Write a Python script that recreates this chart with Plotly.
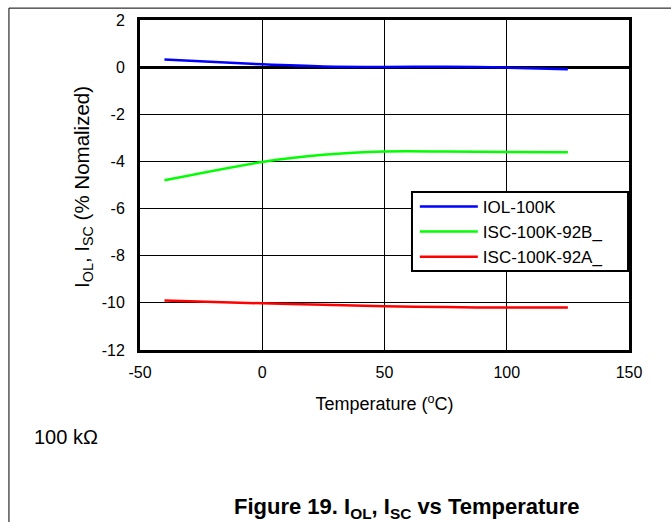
import plotly.graph_objects as go

temps = [-40, 0, 25, 50, 75, 100, 125]
iol_100k = [0.32, 0.12, 0.03, 0.01, 0.02, -0.02, -0.09]
isc_92b = [-4.8, -4.02, -3.72, -3.58, -3.58, -3.6, -3.61]
isc_92a = [-9.9, -10.02, -10.08, -10.14, -10.18, -10.2, -10.2]

series_names = ["IOL-100K", "ISC-100K-92B_", "ISC-100K-92A_"]
series_vals = [iol_100k, isc_92b, isc_92a]
series_colors = ["#0000FF", "#00FF00", "#FF0000"]

x_ticks = [-50, 0, 50, 100, 150]
x_tick_text = ["-50", "0", "50", "100", "150"]
y_ticks = [2, 0, -2, -4, -6, -8, -10, -12]
y_tick_text = ["2", "0", "-2", "-4", "-6", "-8", "-10", "-12"]

FONT = "Liberation Sans, Arial, sans-serif"

fig = go.Figure()
for name, vals, col in zip(series_names, series_vals, series_colors):
    fig.add_trace(go.Scatter(x=temps, y=vals, name=name, mode="lines",
                             line=dict(color=col, width=2.5, shape="spline", smoothing=0.8)))

fig.update_layout(
    width=671, height=522,
    margin=dict(l=140, r=42, t=20, b=172),
    paper_bgcolor="white", plot_bgcolor="white",
    font=dict(family=FONT, size=16, color="black"),
    showlegend=True,
    legend=dict(x=0.562, y=0.488, xanchor="left", yanchor="top",
                bgcolor="rgba(0,0,0,0)", borderwidth=0,
                font=dict(family=FONT, size=17, color="black"),
                itemwidth=58, tracegroupgap=0),
    xaxis=dict(range=[-50, 150], tickvals=x_ticks, ticktext=x_tick_text, ticks="",
               showgrid=True, gridcolor="black", gridwidth=1, zeroline=False,
               showline=True, linecolor="black", linewidth=3, mirror=True,
               tickfont=dict(size=16), ticklabelstandoff=6,
               title=dict(text="Temperature (<sup>o</sup>C)", font=dict(size=18), standoff=18)),
    yaxis=dict(range=[-12, 2], tickvals=y_ticks, ticktext=y_tick_text, ticks="",
               showgrid=True, gridcolor="black", gridwidth=1,
               zeroline=True, zerolinecolor="black", zerolinewidth=2.5,
               showline=True, linecolor="black", linewidth=3, mirror=True,
               tickfont=dict(size=16), ticklabelstandoff=9),
)

# legend box
fig.add_shape(type="rect", xref="paper", yref="paper", x0=0.5562, x1=0.998,
              y0=0.2394, y1=0.4788, layer="above", fillcolor="white",
              line=dict(color="black", width=2))

fig.add_annotation(text="I<sub>OL</sub>, I<sub>SC</sub> (% Nomalized)",
                   xref="paper", yref="paper", x=-0.1166, y=0.494, textangle=-90,
                   xanchor="center", yanchor="middle", showarrow=False,
                   font=dict(family=FONT, size=20.5, color="black"))

# page frame lines
fig.add_shape(type="line", xref="paper", yref="paper", x0=-0.268, x1=1.1,
              y0=1.036, y1=1.036, line=dict(color="black", width=1))
fig.add_shape(type="line", xref="paper", yref="paper", x0=-0.268, x1=-0.268,
              y0=1.036, y1=-0.53, line=dict(color="black", width=1))

fig.add_annotation(text="100 kΩ", xref="paper", yref="paper", x=-0.2209, y=-0.2636,
                   xanchor="left", yanchor="middle", showarrow=False,
                   font=dict(family=FONT, size=20, color="black"))
fig.add_annotation(text="<b>Figure 19. I<sub>OL</sub>, I<sub>SC</sub> vs Temperature</b>",
                   xref="paper", yref="paper", x=0.546, y=-0.479,
                   xanchor="center", yanchor="middle", showarrow=False,
                   font=dict(family=FONT, size=22, color="black"))

fig.write_html("out.html", config={"displayModeBar": False},
               post_script="document.body.style.margin='0px';")
